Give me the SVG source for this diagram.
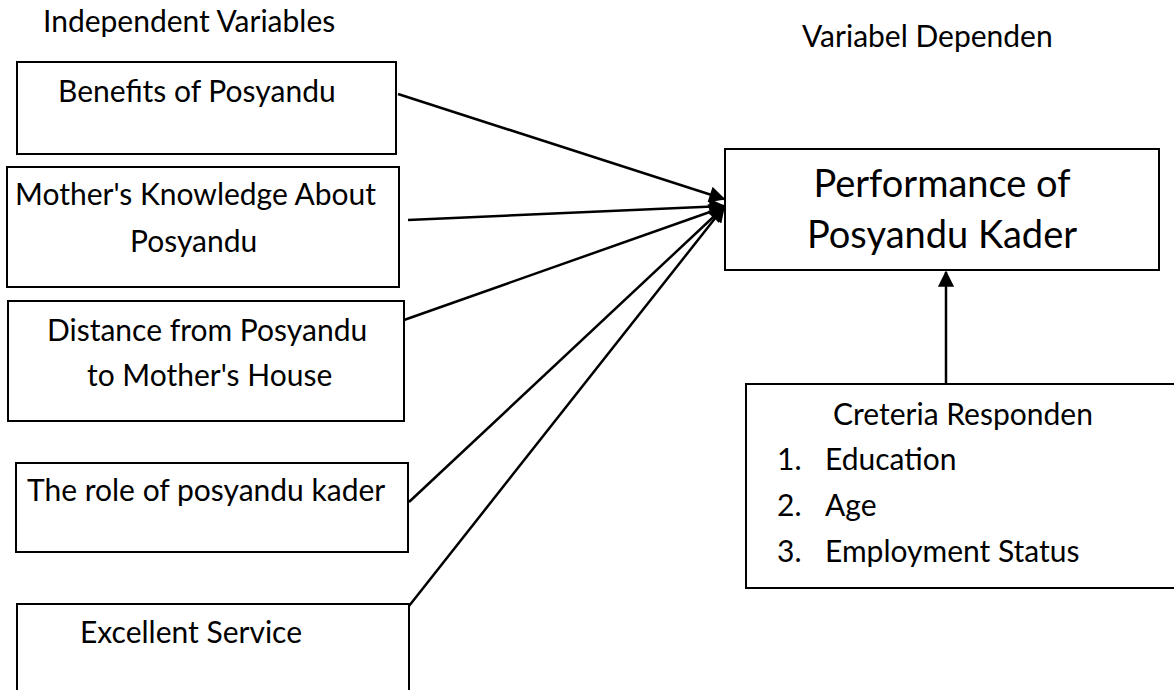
<svg xmlns="http://www.w3.org/2000/svg" width="1174" height="690" viewBox="0 0 1174 690">
<style>
  .box{fill:#fff;stroke:#000;stroke-width:2}
  .t{font-family:Lato,"Noto Sans",sans-serif;font-size:30px;fill:#000}
  .big{font-size:38px}
  .c{stroke:#000;stroke-width:2.5;fill:none}
</style>
<defs>
  <marker id="ah" viewBox="0 0 10 10" refX="9" refY="5" markerWidth="7" markerHeight="6.5" markerUnits="strokeWidth" orient="auto">
    <path d="M0,0 L10,5 L0,10 z" fill="#000"/>
  </marker>
</defs>
<rect width="1174" height="690" fill="#fff"/>
<text class="t" x="43" y="32">Independent Variables</text>
<text class="t" x="802" y="47">Variabel Dependen</text>

<g id="n1"><rect class="box" x="17" y="62" width="379" height="92"/>
<text class="t" x="58" y="102">Benefits of Posyandu</text></g>
<g id="n2"><rect class="box" x="7" y="167" width="392" height="120"/>
<text class="t" x="15" y="205">Mother's Knowledge About</text>
<text class="t" x="130" y="252">Posyandu</text></g>
<g id="n3"><rect class="box" x="8" y="301" width="396" height="120"/>
<text class="t" x="47" y="341">Distance from Posyandu</text>
<text class="t" x="87" y="386">to Mother's House</text></g>
<g id="n4"><rect class="box" x="16" y="463" width="392" height="89"/>
<text class="t" x="27" y="501">The role of posyandu kader</text></g>
<g id="n5"><rect class="box" x="17" y="604" width="392" height="100"/>
<text class="t" x="80" y="643">Excellent Service</text></g>
<g id="n6"><rect class="box" x="725" y="149" width="434" height="121"/>
<text class="t big" x="942" y="197" text-anchor="middle">Performance of</text>
<text class="t big" x="942" y="248" text-anchor="middle">Posyandu Kader</text></g>
<g id="n7"><rect class="box" x="746" y="384" width="440" height="204"/>
<text class="t" x="963" y="425" text-anchor="middle">Creteria Responden</text>
<text class="t" x="777" y="470">1.</text><text class="t" x="825" y="470">Education</text>
<text class="t" x="777" y="516">2.</text><text class="t" x="825" y="516">Age</text>
<text class="t" x="777" y="562">3.</text><text class="t" x="825" y="562">Employment Status</text></g>

<g id="connectors">
  <line class="c" x1="398" y1="94" x2="724" y2="199" marker-end="url(#ah)"/>
  <line class="c" x1="408" y1="220" x2="724" y2="206" marker-end="url(#ah)"/>
  <line class="c" x1="404" y1="320" x2="724" y2="207" marker-end="url(#ah)"/>
  <line class="c" x1="409" y1="502" x2="724" y2="207" marker-end="url(#ah)"/>
  <line class="c" x1="409" y1="606" x2="724" y2="207" marker-end="url(#ah)"/>
  <line class="c" x1="946" y1="384" x2="946" y2="272" marker-end="url(#ah)"/>
</g>
</svg>
